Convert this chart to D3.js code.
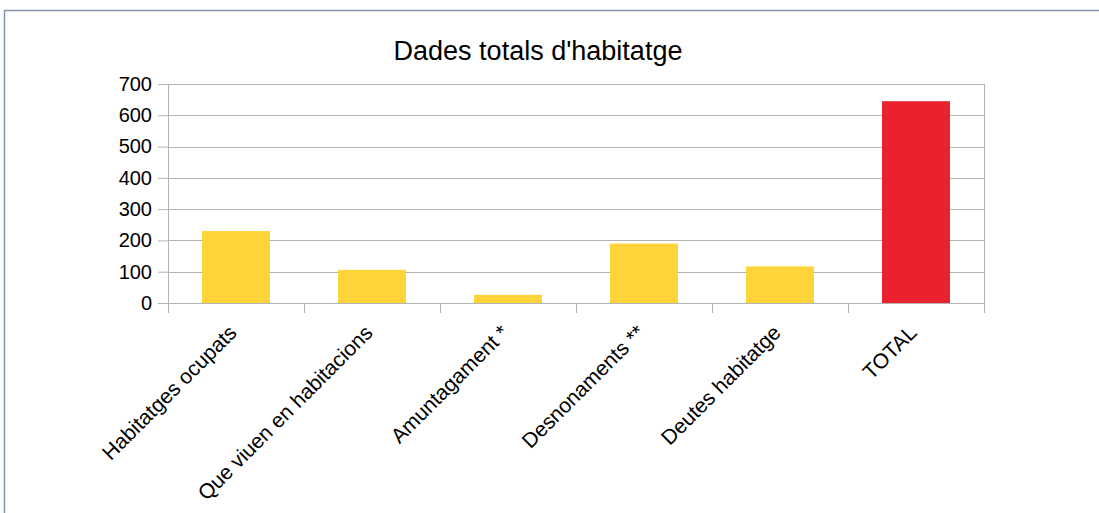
<!DOCTYPE html>
<html>
<head>
<meta charset="utf-8">
<script src="https://cdn.jsdelivr.net/npm/d3@7"></script>
<style>
  body { margin: 0; background: #fff; }
  text { font-family: "Liberation Sans", Arial, sans-serif; fill: #000; }
</style>
</head>
<body>
<div id="canvas"></div>
<script>
// chart data
var categories = ["Habitatges ocupats", "Que viuen en habitacions", "Amuntagament *", "Desnonaments **", "Deutes habitatge", "TOTAL"];
var values = [230, 106, 26, 190, 117, 645];
var barColors = ["#ffd43b", "#ffd43b", "#ffd43b", "#ffd43b", "#ffd43b", "#ea212e"];
var yTicks = [0, 100, 200, 300, 400, 500, 600, 700];
var title = "Dades totals d'habitatge";

var W = 1099, H = 513;
var margin = {top: 84, right: 115, bottom: 210, left: 168};
var width = 984 - margin.left;
var height = 303 - margin.top;

var svg = d3.select("#canvas").append("svg")
    .attr("width", W)
    .attr("height", H);

// outer frame
svg.append("rect")
    .attr("x", 4.5).attr("y", 10.5)
    .attr("width", W + 10).attr("height", H + 10)
    .attr("fill", "none")
    .attr("stroke", "#7f97ad")
    .attr("stroke-width", 1.5);

svg.append("text")
    .attr("x", 538).attr("y", 60)
    .attr("text-anchor", "middle")
    .style("font-size", "27px")
    .text(title);

var g = svg.append("g")
    .attr("transform", "translate(" + margin.left + "," + margin.top + ")");

var x = d3.scaleBand()
    .domain(categories)
    .range([0, width])
    .paddingInner(0.5)
    .paddingOuter(0.25);

var y = d3.scaleLinear()
    .domain([0, 700])
    .range([height, 0]);

// gridlines + y labels
var yAxis = g.append("g")
    .call(d3.axisLeft(y).tickValues(yTicks).tickSize(10).tickPadding(6).tickFormat(d3.format("d")));
yAxis.select(".domain").remove();
yAxis.selectAll(".tick line").attr("stroke", "#b3b3b3");
yAxis.selectAll(".tick text").style("font-size", "20px").attr("fill", "#000");

g.selectAll("line.grid")
    .data(yTicks)
  .enter().append("line")
    .attr("class", "grid")
    .attr("x1", 0).attr("x2", width)
    .attr("y1", function(d) { return Math.round(y(d)) + 0.5; })
    .attr("y2", function(d) { return Math.round(y(d)) + 0.5; })
    .attr("stroke", "#b3b3b3");

// plot frame sides
g.append("line").attr("x1", 0.5).attr("x2", 0.5).attr("y1", 0).attr("y2", height).attr("stroke", "#b3b3b3");
g.append("line").attr("x1", width + 0.5).attr("x2", width + 0.5).attr("y1", 0).attr("y2", height).attr("stroke", "#b3b3b3");

// bars
g.selectAll("rect.bar")
    .data(values)
  .enter().append("rect")
    .attr("class", "bar")
    .attr("x", function(d, i) { return x(categories[i]); })
    .attr("width", x.bandwidth())
    .attr("y", function(d) { return y(d); })
    .attr("height", function(d) { return height - y(d); })
    .attr("fill", function(d, i) { return barColors[i]; });

// x ticks at band boundaries
var step = x.step();
var bounds = d3.range(categories.length + 1).map(function(i) { return i * step; });
g.selectAll("line.xtick")
    .data(bounds)
  .enter().append("line")
    .attr("class", "xtick")
    .attr("x1", function(d) { return d + 0.5; })
    .attr("x2", function(d) { return d + 0.5; })
    .attr("y1", height).attr("y2", height + 10)
    .attr("stroke", "#b3b3b3");

// rotated category labels
g.selectAll("text.cat")
    .data(categories)
  .enter().append("text")
    .attr("class", "cat")
    .attr("text-anchor", "end")
    .style("font-size", "21px")
    .attr("transform", function(d) {
      return "translate(" + (x(d) + x.bandwidth() / 2 + 2) + "," + (height + 31) + ") rotate(-45)";
    })
    .text(function(d) { return d; });
</script>
</body>
</html>
